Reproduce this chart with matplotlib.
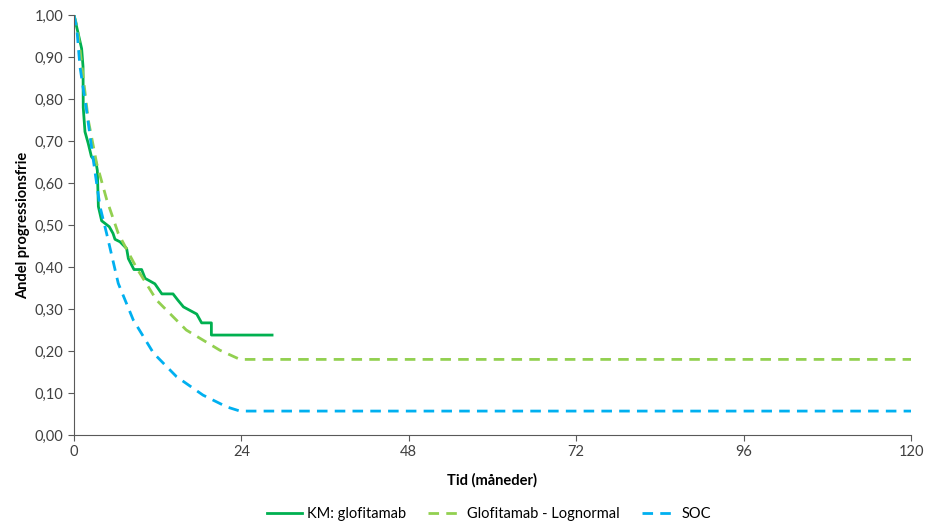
import matplotlib
matplotlib.use("Agg")
import matplotlib.pyplot as plt

# KM: glofitamab (step points)
km_t = [0, 1.1, 1.3, 1.33, 1.58, 2.05, 2.5, 3.15, 3.35, 3.5, 3.97, 5.06, 5.6, 5.88, 6.6,
        7.55, 7.8, 8.6, 9.7, 10.2, 11.6, 12.6, 14.2, 14.9, 15.7, 17.6, 18.3, 19.7, 19.7, 28.4]
km_s = [1.0, 0.92, 0.877, 0.78, 0.722, 0.694, 0.663, 0.65, 0.63, 0.544, 0.51, 0.496, 0.48, 0.466, 0.46,
        0.444, 0.42, 0.394, 0.394, 0.373, 0.36, 0.336, 0.336, 0.321, 0.305, 0.288, 0.267, 0.267, 0.238, 0.238]

# Glofitamab - Lognormal
ln_t = [0, 0.5, 1.2, 2.05, 3.25, 4.7, 6.35, 9.0, 11.85, 16.1, 20.9, 23.8, 120]
ln_s = [1.0, 0.97, 0.87, 0.75, 0.647, 0.56, 0.48, 0.397, 0.321, 0.25, 0.202, 0.18, 0.18]

# SOC
soc_t = [0, 0.4, 0.86, 1.8, 2.77, 3.73, 4.68, 6.35, 8.5, 11.4, 14.7, 18.5, 21.9, 23.8, 120]
soc_s = [1.0, 0.97, 0.877, 0.774, 0.655, 0.544, 0.48, 0.361, 0.274, 0.195, 0.139, 0.095, 0.067, 0.057, 0.057]

xticks = [0, 24, 48, 72, 96, 120]
yticks = [0, 0.1, 0.2, 0.3, 0.4, 0.5, 0.6, 0.7, 0.8, 0.9, 1.0]

plt.rcParams['font.family'] = ['Lato', 'DejaVu Sans']

fig = plt.figure(figsize=(9.28, 5.25), dpi=100)
ax = fig.add_axes([0.0797, 0.1714, 0.902, 0.80])

ax.plot(km_t, km_s, color='#00B050', lw=2.0, label='KM: glofitamab')
ax.plot(ln_t, ln_s, color='#92D050', lw=2.0, dashes=(3.8, 2.6), label='Glofitamab - Lognormal')
ax.plot(soc_t, soc_s, color='#00B0F0', lw=2.0, dashes=(3.8, 2.6), label='SOC')

ax.set_xlim(0, 120)
ax.set_ylim(0, 1.0)
ax.set_xticks(xticks)
ax.set_yticks(yticks)
ax.set_yticklabels([f"{v:.2f}".replace('.', ',') for v in yticks])
ax.tick_params(labelsize=10.5, length=4, color='#595959', labelcolor='#404040')
for s in ['top', 'right']:
    ax.spines[s].set_visible(False)
for s in ['left', 'bottom']:
    ax.spines[s].set_color('#595959')

ax.set_xlabel('Tid (måneder)', fontsize=10.5, fontweight='bold', color='black', labelpad=10)
ax.set_ylabel('Andel progressionsfrie', fontsize=10.5, fontweight='bold', color='black', labelpad=3)

fig.legend(loc='center', bbox_to_anchor=(0.527, 0.021), ncol=3, frameon=False,
           fontsize=10.5, handlelength=2.4, handletextpad=0.3, columnspacing=1.5)

fig.savefig('out.png', dpi=100)
